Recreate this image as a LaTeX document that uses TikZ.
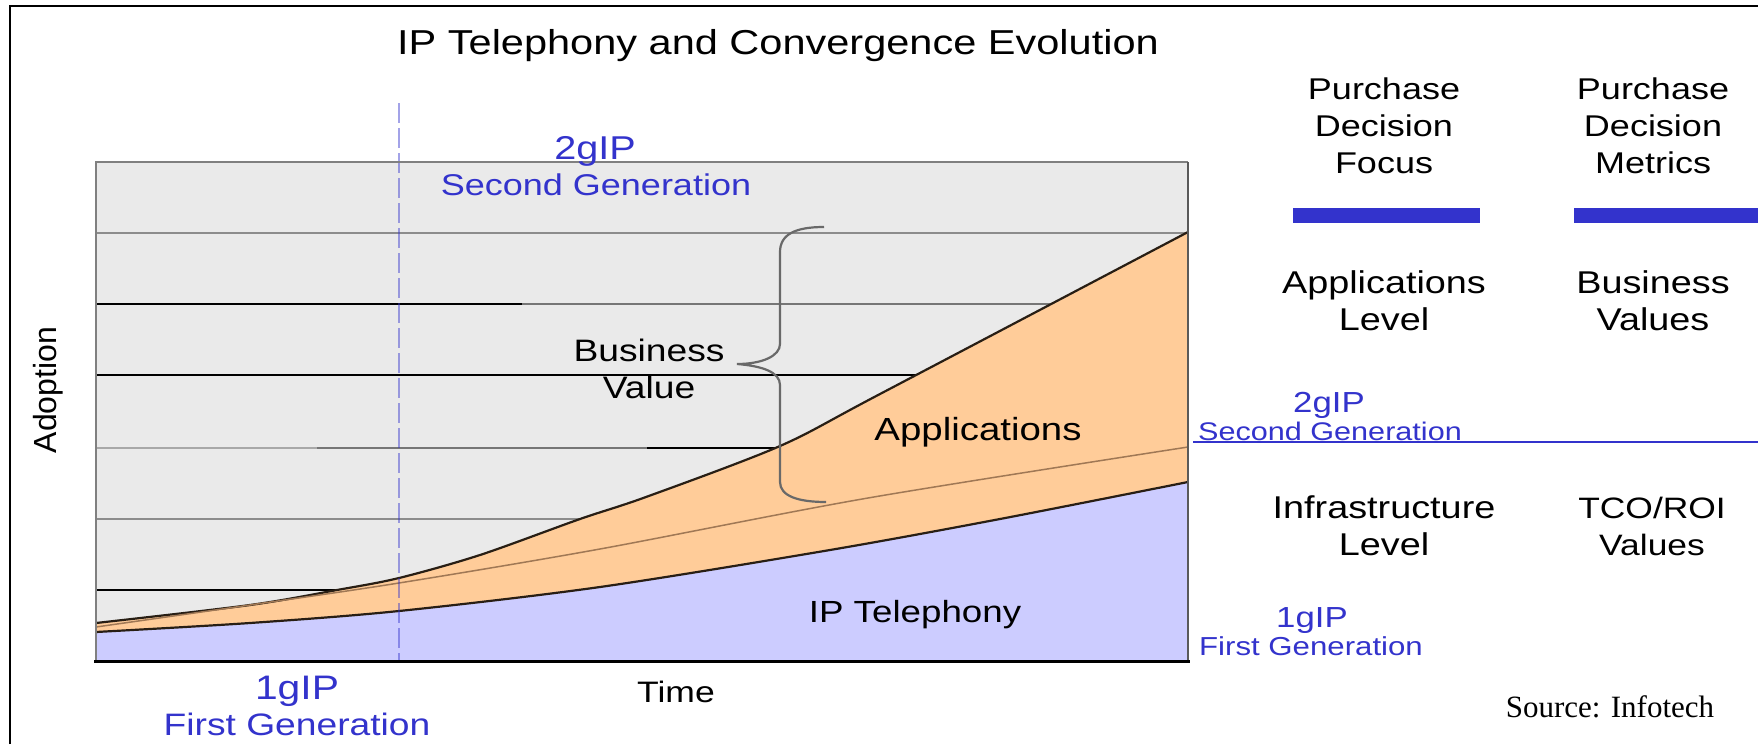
\documentclass[tikz,border=0pt]{standalone}
\usepackage{fontspec}
\setmainfont{Liberation Sans}[FakeStretch=1.2]
\newfontfamily\upsans{Liberation Sans}
\newfontfamily\srcserif{Liberation Serif}

\definecolor{chartbg}{RGB}{234,234,234}
\definecolor{appfill}{RGB}{255,204,153}
\definecolor{telfill}{RGB}{204,204,255}
\definecolor{ipblue}{RGB}{51,51,204}
\definecolor{gridgray}{RGB}{140,140,140}
\definecolor{gridlight}{RGB}{168,168,168}
\definecolor{gridmid}{RGB}{118,118,118}
\definecolor{bordergray}{RGB}{128,128,128}
\definecolor{borderdark}{RGB}{90,90,90}
\definecolor{curvedark}{RGB}{40,30,20}
\definecolor{curvemid}{RGB}{160,120,85}
\definecolor{bracegray}{RGB}{105,105,105}

\tikzset{
  lbl/.style={inner sep=0pt, anchor=base, text=black, align=center},
  bluelbl/.style={lbl, text=ipblue},
  grid/.style={line width=2pt},
  curve/.style={curvedark, line width=2.2pt, line join=round},
  fs/.style={font=\fontsize{#1}{37}\selectfont},
}

\begin{document}
\begin{tikzpicture}[x=1pt, y=-1pt]
\useasboundingbox (0,0) rectangle (1758,744);
\fill[white] (0,0) rectangle (1758,744);

% outer frame
\draw[line width=2.5pt] (10,744) -- (10,6) -- (1758,6);

% chart background
\fill[chartbg] (96,162) rectangle (1188,661);

% horizontal grid lines
\draw[grid, gridgray] (96,233) -- (1188,233);
\draw[grid, black] (96,304) -- (522,304);
\draw[grid, gridmid] (522,304) -- (1188,304);
\draw[grid, black] (96,375) -- (1188,375);
\draw[grid, gridlight] (96,448) -- (317,448);
\draw[grid, gridmid] (317,448) -- (647,448);
\draw[grid, black] (647,448) -- (1188,448);
\draw[grid, gridgray] (96,519) -- (1188,519);
\draw[grid, black] (96,590) -- (1188,590);

% applications band (everything below the upper curve)
\fill[appfill] plot[smooth, tension=0.5] coordinates {(96,623) (250,605) (337,590) (399,578) (480,555) (580,519) (646,497) (780,446) (880,394) (1188,232)}
  -- (1188,661) -- (96,661) -- cycle;
% IP telephony band
\fill[telfill] plot[smooth, tension=0.5] coordinates {(96,632) (250,623) (399,611) (600,587) (830,550) (1000,519) (1188,482)}
  -- (1188,661) -- (96,661) -- cycle;

% boundary curves
\draw[curve] plot[smooth, tension=0.5] coordinates {(96,623) (250,605) (337,590) (399,578) (480,555) (580,519) (646,497) (780,446) (880,394) (1188,232)};
\draw[curvemid, line width=1.5pt] plot[smooth, tension=0.5] coordinates {(96,627) (250,605) (399,583) (600,549) (868,498) (1188,447)};
\draw[curve] plot[smooth, tension=0.5] coordinates {(96,632) (250,623) (399,611) (600,587) (830,550) (1000,519) (1188,482)};

% brace for business value
\draw[bracegray, line width=2.2pt]
  (824,227) .. controls (796,227) and (780,234) .. (780,252) -- (780,344)
  .. controls (780,356) and (762,364) .. (737,364)
  .. controls (762,366) and (780,372) .. (780,385) -- (780,482)
  .. controls (780,496) and (798,502) .. (826,502);

% generation boundary
\draw[ipblue, opacity=0.45, line width=2.5pt, dash pattern=on 20pt off 5pt] (399,103) -- (399,661);

% chart border
\draw[bordergray, line width=2.5pt] (1188,162) -- (96,162) -- (96,661);
\draw[borderdark, line width=2.5pt] (1188,162) -- (1188,661);
\draw[line width=3pt] (94,661) -- (1190,661);

% chart texts
\node[lbl, fs=34.6] (title) at (778,54) {IP Telephony and Convergence Evolution};
\node[bluelbl, fs=33] (gen2top) at (595,159) {2gIP};
\node[bluelbl, fs=30] (gen2topsub) at (596,195) {Second Generation};
\node[lbl, fs=31] (bizval) at (649,398) {Business\\Value};
\node[lbl, fs=32] (apps) at (978,440) {Applications};
\node[lbl, fs=30.6] (iptel) at (915,622) {IP Telephony};
\node[lbl, fs=29.6] (timelbl) at (676,702) {Time};
\node[bluelbl, fs=34] (gen1) at (297,699) {1gIP};
\node[bluelbl, fs=31] (gen1sub) at (297,735) {First Generation};
\node[inner sep=0pt, rotate=90, font=\upsans\fontsize{32}{37}\selectfont] (adoption) at (48,390) {Adoption};

% decision panel
\node[lbl, fs=30] (focushead) at (1384,173) {Purchase\\Decision\\Focus};
\node[lbl, fs=30] (metricshead) at (1653,173) {Purchase\\Decision\\Metrics};
\fill[ipblue] (1293,208) rectangle (1480,223);
\fill[ipblue] (1574,208) rectangle (1758,223);
\node[lbl, fs=31.5] (applevel) at (1384,330) {Applications\\Level};
\node[lbl, fs=31.5] (bizvalues) at (1653,330) {Business\\Values};
\node[bluelbl, fs=29] (gen2r) at (1329,412) {2gIP};
\node[bluelbl, fs=25.5] (gen2rsub) at (1330,440) {Second Generation};
\draw[ipblue, line width=2.5pt] (1193,442) -- (1758,442);
\node[lbl, fs=31.5] (infralevel) at (1384,555) {Infrastructure\\Level};
\node[lbl, fs=29.5] (tcoroi) at (1652,555) {TCO/ROI\\Values};
\node[bluelbl, fs=29] (gen1r) at (1312,627) {1gIP};
\node[bluelbl, fs=26] (gen1rsub) at (1311,655) {First Generation};
\node[lbl, font=\srcserif\fontsize{31}{37}\selectfont] (source) at (1610,717) {Source: Infotech};
\end{tikzpicture}
\end{document}
